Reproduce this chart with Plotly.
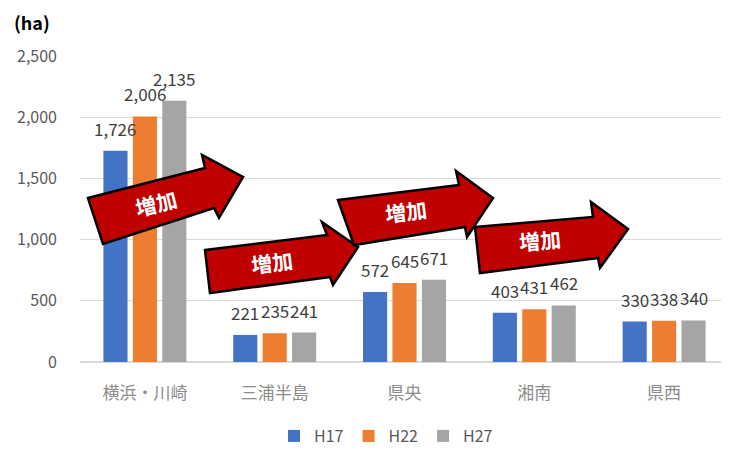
import plotly.graph_objects as go

categories = ["横浜・川崎", "三浦半島", "県央", "湘南", "県西"]
series_names = ["H17", "H22", "H27"]
h17 = [1726, 221, 572, 403, 330]
h22 = [2006, 235, 645, 431, 338]
h27 = [2135, 241, 671, 462, 340]
colors = ["#4472C4", "#ED7D31", "#A5A5A5"]
y_ticks = [0, 500, 1000, 1500, 2000, 2500]
arrow_label = "増加"
unit_label = "(ha)"

OFF = 8  # page body offset
W, H = 729 - OFF, 450 - OFF
L, R, T = 80 - OFF, 0, 56 - OFF
B = H - (362 - OFF)
pw, ph = W - L - R, H - T - B
BARGAP, GROUPGAP = 0.32, 0.18

def px(x, y):
    # reference-pixel position -> paper coordinates
    return (x - OFF - L) / pw, (H - B - (y - OFF)) / ph

fig = go.Figure()
for name, vals, c in zip(series_names, [h17, h22, h27], colors):
    fig.add_trace(go.Bar(name=name, x=categories, y=vals, marker_color=c,
                         marker_line_width=0))

annotations = []
slot_px = (1 - BARGAP) / 3 * pw / len(categories)
for i, vals in enumerate([h17, h22, h27]):
    for cat, v in zip(categories, vals):
        annotations.append(dict(x=cat, y=v, xref="x", yref="y", text=f"{v:,}",
                                showarrow=False, xanchor="center", yanchor="bottom",
                                xshift=(i - 1) * slot_px, yshift=9, borderpad=0,
                                font=dict(size=17, color="#404040", family="Noto Sans CJK JP")))

# arrow outlines (decorations), reference pixel positions
arrows = [
    [(88,198),(205,168),(202,155),(243,177),(219,218),(214,208),(103,244)],
    [(205,250),(327,235),(322,222),(358,247),(333,285),(330,277),(210,293)],
    [(338,200),(459,185),(456,171),(493,198),(467,237),(465,227),(354,245)],
    [(475,227),(593,217),(591,202),(628,229),(600,268),(598,258),(480,273)],
]
text_pos = [((156,203), -14), ((272,262), -7), ((406,211), -7), ((540,240), -5)]

shapes = []
for pts, ((tx, ty), ang) in zip(arrows, text_pos):
    pp = [px(x, y) for x, y in pts]
    path = "M " + " L ".join(f"{a:.4f},{b:.4f}" for a, b in pp) + " Z"
    shapes.append(dict(type="path", path=path, xref="paper", yref="paper",
                       fillcolor="#C00000", line=dict(color="black", width=2.5),
                       layer="above"))
    ax, ay = px(tx, ty)
    annotations.append(dict(text=f"<b>{arrow_label}</b>", x=ax, y=ay, xref="paper", yref="paper",
                            xanchor="center", yanchor="middle",
                            showarrow=False, textangle=ang,
                            font=dict(size=21, color="white", family="Noto Sans CJK JP")))

hx, hy = px(32, 22)
annotations.append(dict(text=f"<b>{unit_label}</b>", x=hx, y=hy, xref="paper", yref="paper",
                        xanchor="center", yanchor="middle", showarrow=False,
                        font=dict(size=18, color="black", family="Noto Sans CJK JP")))

lx, ly = px(386, 436)
fig.update_layout(
    width=W, height=H,
    margin=dict(l=L, r=R, t=T, b=B, autoexpand=False),
    plot_bgcolor="white", paper_bgcolor="white",
    barmode="group", bargap=BARGAP, bargroupgap=GROUPGAP,
    font=dict(family="Noto Sans CJK JP", color="#595959"),
    xaxis=dict(range=[-0.5, 4.5], tickfont=dict(size=17, color="#8C8C8C"),
               showgrid=False, ticks="", ticklabelstandoff=19),
    yaxis=dict(range=[0, 2500], tickvals=y_ticks, tickformat=",d",
               tickfont=dict(size=16, color="#595959"),
               gridcolor="#D9D9D9", gridwidth=1, zeroline=True, zerolinecolor="#D9D9D9",
               ticklabelstandoff=22),
    legend=dict(orientation="h", x=lx, y=ly, xanchor="center", yanchor="middle",
                font=dict(size=16, color="#595959"), itemwidth=30, tracegroupgap=0),
    shapes=shapes, annotations=annotations,
)
fig.write_html("out.html")
